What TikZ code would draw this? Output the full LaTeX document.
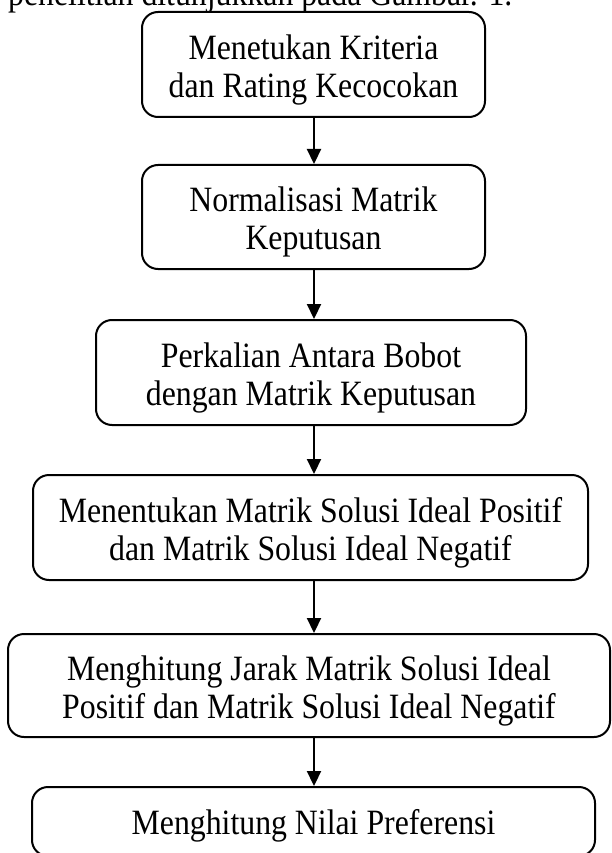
\documentclass[tikz,border=0pt]{standalone}
\usepackage{fontspec}
\setmainfont{Liberation Serif}
\newfontfamily\boxfont[FakeStretch=0.893]{Liberation Serif}
\usetikzlibrary{arrows.meta}
\tikzset{
  flowbox/.style={draw=black, line width=2pt, rounded corners=16pt, inner sep=0pt},
  boxlabel/.style={align=center, inner sep=0pt, text=black,
    font=\boxfont\fontsize{35.6}{38}\selectfont},
  flowarrow/.style={draw=black, line width=2.2pt, -{Triangle[length=15pt,width=14pt]}},
  bodytext/.style={inner sep=0pt, text=black, font=\boxfont\fontsize{35.6}{38}\selectfont}
}
\begin{document}
\begin{tikzpicture}[x=1pt, y=-1pt]
\useasboundingbox (0,0) rectangle (611,853);
\clip (0,0) rectangle (611,853);
\fill[white] (0,0) rectangle (611,853);
\node[bodytext, anchor=base west] (intro) at (8,6) {penelitian ditunjukkan pada Gambar. 1.};
\node[flowbox, minimum width=343pt, minimum height=105pt] (b1) at (313.5,64.5) {};
\node[flowbox, minimum width=343pt, minimum height=104pt] (b2) at (313.5,217) {};
\node[flowbox, minimum width=430pt, minimum height=105pt] (b3) at (311,372.5) {};
\node[flowbox, minimum width=555pt, minimum height=105pt] (b4) at (310.5,527.5) {};
\node[flowbox, minimum width=602pt, minimum height=103pt] (b5) at (309,685.5) {};
\node[flowbox, minimum width=563pt, minimum height=69pt] (b6) at (313.5,821.5) {};
\node[boxlabel] (t1) at ([yshift=-5pt]b1.center) {Menetukan Kriteria\\dan Rating Kecocokan};
\node[boxlabel] (t2) at ([yshift=-5pt]b2.center) {Normalisasi Matrik\\Keputusan};
\node[boxlabel] (t3) at ([yshift=-5pt]b3.center) {Perkalian Antara Bobot\\dengan Matrik Keputusan};
\node[boxlabel] (t4) at ([yshift=-5pt]b4.center) {Menentukan Matrik Solusi Ideal Positif\\dan Matrik Solusi Ideal Negatif};
\node[boxlabel] (t5) at ([yshift=-5pt]b5.center) {Menghitung Jarak Matrik Solusi Ideal\\Positif dan Matrik Solusi Ideal Negatif};
\node[boxlabel] (t6) at ([yshift=-4pt]b6.center) {Menghitung Nilai Preferensi};
\coordinate (ax) at (314,0);
\draw[flowarrow] (b1.south -| ax) -- (b2.north -| ax);
\draw[flowarrow] (b2.south -| ax) -- (b3.north -| ax);
\draw[flowarrow] (b3.south -| ax) -- (b4.north -| ax);
\draw[flowarrow] (b4.south -| ax) -- (b5.north -| ax);
\draw[flowarrow] (b5.south -| ax) -- (b6.north -| ax);
\end{tikzpicture}
\end{document}
